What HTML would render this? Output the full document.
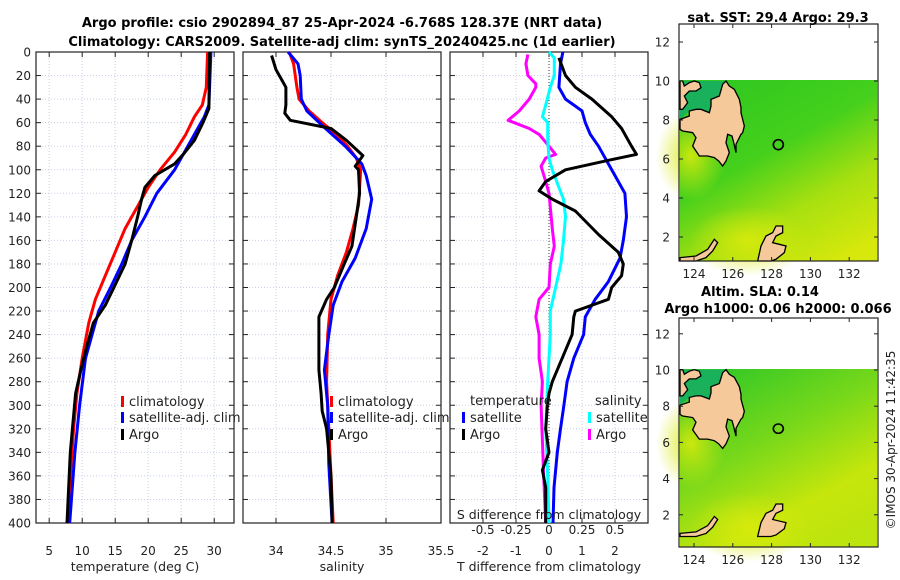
<!DOCTYPE html>
<html><head><meta charset="utf-8">
<style>
html,body{margin:0;padding:0;background:#fff;}
svg{display:block;font-family:"DejaVu Sans","Liberation Sans",sans-serif;}
</style></head>
<body>
<svg id="c" width="900" height="580" viewBox="0 0 900 580" xmlns="http://www.w3.org/2000/svg">
<defs>
<linearGradient id="g1" x1="0.2" y1="0" x2="0.8" y2="1">
<stop offset="0" stop-color="#30c820"/><stop offset="0.4" stop-color="#45d01c"/><stop offset="0.7" stop-color="#a8e010"/><stop offset="1" stop-color="#d6e80c"/>
</linearGradient>
<linearGradient id="g2" x1="0.2" y1="0" x2="0.8" y2="1">
<stop offset="0" stop-color="#34c826"/><stop offset="0.4" stop-color="#78d81a"/><stop offset="0.75" stop-color="#c6e60c"/><stop offset="1" stop-color="#bce40e"/>
</linearGradient>
<radialGradient id="ry" cx="0.5" cy="0.5" r="0.5">
<stop offset="0" stop-color="#d8ea0c" stop-opacity="0.9"/><stop offset="1" stop-color="#d8ea0c" stop-opacity="0"/>
</radialGradient>
</defs>
<text x="342" y="27" text-anchor="middle" font-size="13" font-weight="bold">Argo profile: csio 2902894_87 25-Apr-2024 -6.768S 128.37E (NRT data)</text>
<text x="342" y="46" text-anchor="middle" font-size="13" font-weight="bold">Climatology: CARS2009. Satellite-adj clim: synTS_20240425.nc (1d earlier)</text>
<g id="plots"></g>
<g id="maps"></g>
<text transform="translate(895,440) rotate(-90)" text-anchor="middle" font-size="12" fill="#222">©IMOS 30-Apr-2024 11:42:35</text>
</svg>
<script>
// ---- data (depth in m) ----
const tClimD=[0,30,45,55,70,85,100,115,130,150,170,190,210,230,260,290,320,360,400];
const tClimV=[29.0,28.8,28.2,27.0,25.7,24.0,21.8,20.0,18.5,16.5,15.0,13.5,12.0,11.0,10.0,9.2,8.7,8.2,7.8];
const tSatD=[0,45,55,80,100,120,140,160,180,200,220,240,260,300,340,400];
const tSatV=[29.5,29.2,28.5,26.0,24.0,21.3,19.5,17.5,16.0,14.3,12.5,11.5,10.5,9.6,8.9,8.1];
const tArgoD=[0,48,60,75,87,95,105,115,125,140,160,180,200,215,230,250,270,290,340,400];
const tArgoV=[29.3,29.2,28.3,27.0,25.3,24.0,21.0,19.5,19.0,18.4,17.5,16.5,14.8,13.5,11.7,10.7,9.8,9.0,8.2,7.7];
const sClimD=[0,10,30,40,50,60,70,80,90,100,115,130,150,170,190,210,240,280,320,360,400];
const sClimV=[34.12,34.16,34.19,34.21,34.3,34.42,34.55,34.65,34.73,34.77,34.76,34.75,34.7,34.64,34.56,34.5,34.47,34.46,34.48,34.5,34.52];
const sSatD=[0,10,20,40,50,65,80,95,105,125,150,175,195,215,240,270,300,350,400];
const sSatV=[34.11,34.2,34.22,34.23,34.28,34.45,34.63,34.78,34.82,34.87,34.82,34.72,34.6,34.52,34.48,34.44,34.47,34.48,34.51];
const sArgoD=[3,15,25,30,45,52,58,65,75,88,97,100,120,140,165,180,200,210,225,240,270,290,305,320,360,400];
const sArgoV=[33.96,34.0,34.06,34.09,34.09,34.08,34.13,34.5,34.64,34.79,34.72,34.75,34.76,34.73,34.69,34.62,34.53,34.46,34.39,34.39,34.39,34.41,34.42,34.46,34.5,34.51];
const dtSatD=[0,10,30,40,50,60,70,80,95,110,120,140,160,175,195,210,225,240,260,280,300,320,340,370,400];
const dtSatV=[0.42,0.35,0.3,0.5,1.0,1.1,1.25,1.5,1.8,2.1,2.3,2.35,2.25,2.15,1.8,1.4,1.1,1.05,0.75,0.55,0.45,0.35,0.25,0.15,0.12];
const dtArgoD=[5,20,30,40,55,65,80,87,92,100,110,118,125,135,155,170,180,190,200,210,220,225,240,260,280,290,300,320,340,355,370,400];
const dtArgoV=[0.3,0.5,0.8,1.3,1.9,2.2,2.5,2.65,1.8,0.5,-0.1,-0.3,0.1,0.8,1.5,2.1,2.25,2.2,1.9,1.8,0.8,0.75,0.7,0.4,0.1,0,-0.05,-0.1,0,-0.2,-0.1,-0.1];
const dsSatD=[0,5,20,30,45,55,60,75,90,100,115,125,140,160,180,200,220,240,280,320,360,400];
const dsSatV=[0,0.04,0.04,0.01,-0.025,-0.05,-0.01,-0.01,0,0.025,0.075,0.11,0.125,0.11,0.09,0.05,0.01,0.01,-0.01,-0.025,-0.01,0];
const dsArgoD=[2,10,20,27,30,40,50,58,65,70,80,87,90,97,110,120,150,165,180,200,210,225,240,260,280,300,330,360,400];
const dsArgoV=[-0.16,-0.175,-0.16,-0.1,-0.1,-0.15,-0.225,-0.31,-0.15,-0.075,0,0.05,-0.025,-0.06,-0.025,0,0.025,0.04,0.01,0,-0.075,-0.1,-0.075,-0.075,-0.05,-0.06,-0.05,-0.04,-0.025];
const depthTicks=[0,20,40,60,80,100,120,140,160,180,200,220,240,260,280,300,320,340,360,380,400];
const tTicks=[5,10,15,20,25,30];
const sTicks=[34,34.5,35,35.5];
const dtTicks=[-2,-1,0,1,2];
const dsTicks=[-0.5,-0.25,0,0.25,0.5];

const NS='http://www.w3.org/2000/svg';
function mk(tag,attrs,parent){const e=document.createElementNS(NS,tag);for(const k in attrs)e.setAttribute(k,attrs[k]);(parent||document.getElementById('plots')).appendChild(e);return e;}
const Y0=52,Y1=523;
function yD(d){return Y0+(d/400)*(Y1-Y0);}
function panel(x0,x1,dmin,dmax,name){
  const fx=v=>x0+(v-dmin)/(dmax-dmin)*(x1-x0);
  const g=mk('g',{});
  
  
  return {g,fx,x0,x1};
}
function frame(p,xticks,labels,showY,xtitle){
  const g=p.g;
  depthTicks.forEach(d=>{
    const gl=mk('line',{x1:p.x0,x2:p.x1,y1:yD(d),y2:yD(d),stroke:'#c8cfe6','stroke-width':1,'stroke-dasharray':'1,2'},g);
    
    
    mk('line',{x1:p.x0,x2:p.x0+5,y1:yD(d),y2:yD(d),stroke:'#222'},g);
    mk('line',{x1:p.x1-5,x2:p.x1,y1:yD(d),y2:yD(d),stroke:'#222'},g);
    if(showY){const t=mk('text',{x:p.x0-5,y:yD(d)+4.5,'text-anchor':'end','font-size':12,fill:'#222'},g);t.textContent=d;
      
      }
  });
  xticks.forEach((v,i)=>{
    const x=p.fx(v);
    mk('line',{x1:x,x2:x,y1:Y0,y2:Y1,stroke:'#c8cfe6','stroke-dasharray':'1,2'},g);
    mk('line',{x1:x,x2:x,y1:Y1-5,y2:Y1,stroke:'#222'},g);
    mk('line',{x1:x,x2:x,y1:Y0,y2:Y0+5,stroke:'#222'},g);
    const t=mk('text',{x:x,y:555,'text-anchor':'middle','font-size':12,fill:'#222'},g);t.textContent=labels[i];
    
    
  });
  const r=mk('rect',{x:p.x0,y:Y0,width:p.x1-p.x0,height:Y1-Y0,fill:'none',stroke:'#222','stroke-width':1.2},g);
  
  
  const tt=mk('text',{x:(p.x0+p.x1)/2,y:571,'text-anchor':'middle','font-size':12.5,fill:'#222'},g);tt.textContent=xtitle;
  
  
}
function line(p,D,V,color,name,scale){
  const pts=D.map((d,i)=>p.fx(V[i]*(scale||1)).toFixed(1)+','+yD(d).toFixed(1)).join(' ');
  const l=mk('polyline',{points:pts,fill:'none',stroke:color,'stroke-width':3,'stroke-linejoin':'round'},p.g);
  
  
}
function leg(g,x,y,color,label,name){
  const m=mk('rect',{x:x,y:y-10,width:3,height:11,fill:color},g);
  
  
  const t=mk('text',{x:x+8,y:y,'font-size':13,fill:'#222'},g);t.textContent=label;
  
  
}
// panel 1
const p1=panel(36,234,3,33,'temperature-panel');
frame(p1,tTicks,tTicks.map(String),true,'temperature (deg C)');
line(p1,tClimD,tClimV,'#ff0000','temp-climatology-line');
line(p1,tSatD,tSatV,'#0000ff','temp-satellite-line');
line(p1,tArgoD,tArgoV,'#000000','temp-argo-line');
leg(p1.g,121,406,'#ff0000','climatology','legend-climatology');
leg(p1.g,121,422,'#0000ff','satellite-adj. clim','legend-satellite');
leg(p1.g,121,439,'#000000','Argo','legend-argo');
// panel 2
const p2=panel(243,441,33.7,35.5,'salinity-panel');
frame(p2,sTicks,['34','34.5','35','35.5'],false,'salinity');
line(p2,sClimD,sClimV,'#ff0000','sal-climatology-line');
line(p2,sSatD,sSatV,'#0000ff','sal-satellite-line');
line(p2,sArgoD,sArgoV,'#000000','sal-argo-line');
leg(p2.g,330,406,'#ff0000','climatology','legend-climatology-2');
leg(p2.g,330,422,'#0000ff','satellite-adj. clim','legend-satellite-2');
leg(p2.g,330,439,'#000000','Argo','legend-argo-2');
// panel 3
const p3=panel(450,648,-3,3,'difference-panel');
frame(p3,dtTicks,dtTicks.map(String),false,'T difference from climatology');
const zl=mk('line',{x1:p3.fx(0),x2:p3.fx(0),y1:Y0,y2:Y1,stroke:'#333','stroke-dasharray':'1,2'},p3.g);


line(p3,dsArgoD,dsArgoV,'#ff00ff','sal-diff-argo-line',4);
line(p3,dsSatD,dsSatV,'#00ffff','sal-diff-satellite-line',4);
line(p3,dtSatD,dtSatV,'#0000ff','temp-diff-satellite-line');
line(p3,dtArgoD,dtArgoV,'#000000','temp-diff-argo-line');
const st=mk('text',{x:549,y:519,'text-anchor':'middle','font-size':12.5,fill:'#222'},p3.g);st.textContent='S difference from climatology';


dsTicks.forEach(v=>{const t=mk('text',{x:p3.fx(v*4),y:534,'text-anchor':'middle','font-size':12,fill:'#222'},p3.g);t.textContent=String(v);
  
  });
const lt=mk('text',{x:470,y:405,'font-size':13,fill:'#222'},p3.g);lt.textContent='temperature';


const ls=mk('text',{x:595,y:405,'font-size':13,fill:'#222'},p3.g);ls.textContent='salinity';


leg(p3.g,462,422,'#0000ff','satellite','legend-temp-satellite');
leg(p3.g,462,439,'#000000','Argo','legend-temp-argo');
leg(p3.g,588,422,'#00ffff','satellite','legend-sal-satellite');
leg(p3.g,588,439,'#ff00ff','Argo','legend-sal-argo');

// ---- maps ----
const lonTicks=[124,126,128,130,132];
const latTicks=[2,4,6,8,10,12];
const mg=document.getElementById('maps');
const land="12,130 40,120 40,105 60,100 75,100 100,110 105,90 105,70 130,60 140,25 150,15 160,30 175,40 190,70 195,95 195,110 205,150 200,170 195,175 185,195 180,205 180,230 172,195 168,180 155,175 150,200 160,230 150,255 140,270 128,255 115,245 95,240 70,240 50,210 60,185 50,170 20,165 12,160";
const isl1="245,555 255,510 270,480 290,470 300,450 320,450 320,470 300,480 290,500 310,505 330,510 325,530 300,550 285,555";
const isl2="12,545 60,540 95,520 115,490 125,500 110,525 90,545 60,555 12,555";
const isl3="12,15 20,15 25,30 40,20 55,15 70,20 75,35 60,45 40,45 25,60 35,80 20,100 12,100";
function map(top,bot,latTop,latPer,dataTop,fill,title,ty,sy,name){
  const x0=679,x1=878;
  const g=mk('g',{},mg);
  
  
  const fy=lat=>latTop-(lat-10)*latPer;
  const fx=lon=>694+(lon-124)*19.4;
  mk('rect',{x:x0,y:top,width:x1-x0,height:bot-top,fill:'#fff'},g);
  const d=mk('rect',{x:x0+1,y:dataTop,width:x1-x0-2,height:bot-dataTop,fill:fill},g);
  
  
  mk('ellipse',{cx:x0+12,cy:dataTop+(bot-dataTop)*0.42,rx:35,ry:45,fill:'url(#ry)'},g);
  mk('ellipse',{cx:x0+70,cy:bot-20,rx:60,ry:35,fill:'url(#ry)'},g);
  const lg=mk('g',{transform:`translate(676,${ty}) scale(0.3333,${sy})`},g);
  mk('polygon',{points:"12,15 150,15 150,110 100,110 40,105 12,130",fill:'#19b25a'},lg);
  [land,isl1,isl2,isl3].forEach(pts=>{const p=mk('polygon',{points:pts,fill:'#f5c99a',stroke:'#000','stroke-width':4},lg);
    
    });
  const c=mk('circle',{cx:307,cy:206,r:15,fill:'none',stroke:'#000','stroke-width':5},lg);
  
  
  lonTicks.forEach(v=>{const x=fx(v);
    mk('line',{x1:x,x2:x,y1:bot-4,y2:bot,stroke:'#222'},g);
    mk('line',{x1:x,x2:x,y1:top,y2:top+4,stroke:'#222'},g);
    const t=mk('text',{x:x,y:bot+17,'text-anchor':'middle','font-size':12,fill:'#222'},g);t.textContent=v;
    
    });
  latTicks.forEach(v=>{const y=fy(v);
    mk('line',{x1:x0,x2:x0+4,y1:y,y2:y,stroke:'#222'},g);
    mk('line',{x1:x1-4,x2:x1,y1:y,y2:y,stroke:'#222'},g);
    const t=mk('text',{x:670,y:y+4.5,'text-anchor':'end','font-size':12,fill:'#222'},g);t.textContent=v;
    
    });
  mk('rect',{x:x0,y:top,width:x1-x0,height:bot-top,fill:'none',stroke:'#222','stroke-width':1.2},g);
  title.forEach(s=>{const t=mk('text',{x:s[1],y:s[2],'text-anchor':'middle','font-size':13,'font-weight':'bold'},g);t.textContent=s[0];
    
    });
}
map(24,261,81,19.5,80,'url(#g1)',[['sat. SST: 29.4 Argo: 29.3',778,22]],76,0.3333,'sst-map');
map(318,547,370,18.1,369,'url(#g2)',[['Altim. SLA: 0.14',760,296],['Argo h1000: 0.06 h2000: 0.066',778,313]],365,0.309,'sla-map');
</script>
</body></html>
